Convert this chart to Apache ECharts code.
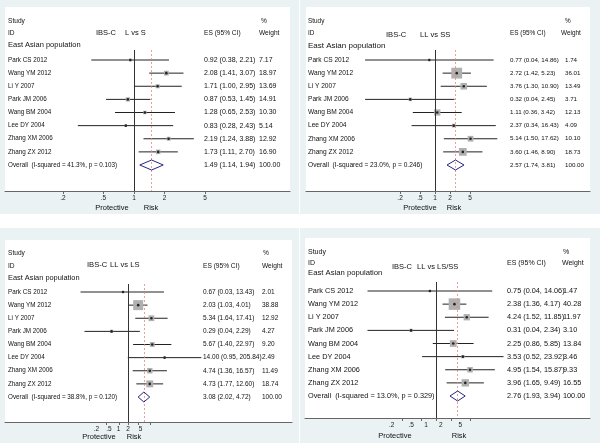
<!DOCTYPE html>
<html><head><meta charset="utf-8">
<script src="https://cdn.jsdelivr.net/npm/echarts@6/dist/echarts.min.js"></script>
<style>html,body{margin:0;padding:0;background:#fff}#c{width:600px;height:443px}</style>
</head><body><div id="c"></div>
<script>
// ---------------- data ----------------
const studies = ["Park CS 2012","Wang YM 2012","Li Y 2007","Park JM 2006","Wang BM 2004","Lee DY 2004","Zhang XM 2006","Zhang ZX 2012"];
const comparisons = ["L vs S","LL vs SS","LL vs LS","LL vs LS/SS"];
const tickValues = [0.2, 0.5, 1, 2, 5];
const tickLabels = [".2", ".5", "1", "2", "5"];

// L vs S
const es1 = [0.92, 2.08, 1.71, 0.87, 1.28, 0.83, 2.19, 1.73];
const lo1 = [0.38, 1.41, 1.00, 0.53, 0.65, 0.28, 1.24, 1.11];
const hi1 = [2.21, 3.07, 2.95, 1.45, 2.53, 2.43, 3.88, 2.70];
const w1  = [7.17, 18.97, 13.69, 14.91, 10.30, 5.14, 12.92, 16.90];
// LL vs SS
const es2 = [0.77, 2.72, 3.76, 0.32, 1.11, 2.37, 5.14, 3.60];
const lo2 = [0.04, 1.42, 1.30, 0.04, 0.36, 0.34, 1.50, 1.46];
const hi2 = [14.86, 5.23, 10.90, 2.45, 3.42, 16.43, 17.62, 8.90];
const w2  = [1.74, 36.01, 13.49, 3.71, 12.13, 4.09, 10.10, 18.73];
// LL vs LS
const es3 = [0.67, 2.03, 5.34, 0.29, 5.67, 14.00, 4.74, 4.73];
const lo3 = [0.03, 1.03, 1.64, 0.04, 1.40, 0.95, 1.36, 1.77];
const hi3 = [13.43, 4.01, 17.41, 2.29, 22.97, 205.84, 16.57, 12.60];
const w3  = [2.01, 38.88, 12.92, 4.27, 9.20, 2.49, 11.49, 18.74];
// LL vs LS/SS
const es4 = [0.75, 2.38, 4.24, 0.31, 2.25, 3.53, 4.95, 3.96];
const lo4 = [0.04, 1.36, 1.52, 0.04, 0.86, 0.52, 1.54, 1.65];
const hi4 = [14.06, 4.17, 11.85, 2.34, 5.85, 23.92, 15.87, 9.49];
const w4  = [1.47, 40.28, 11.97, 3.10, 13.84, 3.46, 9.33, 16.55];

const overallES = [1.49, 2.57, 3.08, 2.76];
const overallLo = [1.14, 1.74, 2.02, 1.93];
const overallHi = [1.94, 3.81, 4.72, 3.94];
const iSquared  = ["41.3%", "23.0%", "38.8%", "13.0%"];
const pHet      = ["0.103", "0.246", "0.120", "0.329"];

const ES = [es1, es2, es3, es4], LO = [lo1, lo2, lo3, lo4], HI = [hi1, hi2, hi3, hi4], W = [w1, w2, w3, w4];

// ---------------- layout ----------------
const L = [
  {bg:[0,0,299,214], whiteTop:7, left:5, right:290, top:50, axisY:191, x1:134, ppd:101.6, row0:60, rowH:13.125,
   nameX:8, esX:204, wX:259,
   hdr:{study:[8,21], id:[8,33], eap:[8,45], ibs:[96,33], cmp:[125,33], es:[204,33], pct:[261,21], weight:[259,33]},
   prot:[112,208], risk:[151,208], f:{name:6.3, es:7, hdr:6.6, eap:7.5, title:7.5, tick:6.5, pr:7.5}, box:1.1, labShift:0},
  {bg:[300,0,300,214], whiteTop:7, left:306, right:590, top:50, axisY:191, x1:435, ppd:50, row0:60, rowH:13.125,
   nameX:308, esX:510, wX:565,
   hdr:{study:[308,21], id:[308,33], eap:[308,46], ibs:[386,35], cmp:[420,35], es:[510,33], pct:[565,21], weight:[561,33]},
   prot:[420,208], risk:[454,208], f:{name:6.6, es:6.2, hdr:6.4, eap:8, title:7.6, tick:6.5, pr:7.5}, box:1.8, labShift:0},
  {bg:[0,228,299,215], whiteTop:240, left:5, right:292, top:284, axisY:422, x1:128.5, ppd:31.5, row0:292, rowH:13.125,
   nameX:8, esX:203, wX:262,
   hdr:{study:[8,253], id:[8,266], eap:[8,278], ibs:[87,265], cmp:[110,265], es:[203,266], pct:[263,253], weight:[262,266]},
   prot:[99,437], risk:[134,437], f:{name:6.3, es:6.5, hdr:6.6, eap:7.4, title:7.6, tick:6.5, pr:7.5}, box:1.6, labShift:10},
  {bg:[300,228,300,215], whiteTop:238, left:305, right:590, top:282, axisY:418, x1:436, ppd:49, row0:291, rowH:13.125,
   nameX:308, esX:507, wX:563,
   hdr:{study:[308,252], id:[308,263], eap:[308,273], ibs:[392,267], cmp:[417,267], es:[507,263], pct:[563,252], weight:[562,263]},
   prot:[395,436], risk:[459,436], f:{name:7.3, es:7.3, hdr:7, eap:7.7, title:7.5, tick:6.5, pr:7.5}, box:1.82, labShift:10}
];

const FAMILY = "'Liberation Sans', Arial, sans-serif";
const lg = Math.log10;
const fmt = v => v.toFixed(2);
const tickLog = tickValues.map(lg);
function tickFormatter(v) {
  for (let j = 0; j < tickLog.length; j++) if (Math.abs(tickLog[j] - v) < 1e-6) return tickLabels[j];
  return '';
}

const chart = echarts.init(document.getElementById('c'), null, {renderer:'canvas'});

const grids = [], xAxes = [], yAxes = [], series = [];
L.forEach((l, k) => {
  grids.push({left:l.left, top:l.top, width:l.right - l.left, height:l.axisY - l.top, show:false, containLabel:false, outerBoundsMode:'none'});
  xAxes.push({
    gridIndex:k, type:'value', min:(l.left - l.x1) / l.ppd, max:(l.right - l.x1) / l.ppd,
    axisLine:{show:true, onZero:false, lineStyle:{color:'#666', width:1}},
    axisTick:{show:true, customValues:tickLog, length:3, lineStyle:{color:'#666', width:1}},
    axisLabel:{show:true, customValues:tickLog, formatter:tickFormatter, fontSize:l.f.tick, fontFamily:FAMILY, color:'#222', margin:4,
               padding:[0, 2 * l.labShift, 0, 0]},
    splitLine:{show:false}
  });
  yAxes.push({gridIndex:k, type:'value', inverse:true, min:(l.top - l.row0) / l.rowH, max:(l.axisY - l.row0) / l.rowH, show:false});

  const es = ES[k], lo = LO[k], hi = HI[k], w = W[k];
  // CI lines
  series.push({
    type:'custom', xAxisIndex:k, yAxisIndex:k, silent:true, clip:false, z:2,
    encode:{x:[0,1], y:2},
    data: studies.map((s, i) => [lg(lo[i]), lg(hi[i]), i]),
    renderItem:(p, api) => {
      const a = api.coord([api.value(0), api.value(2)]);
      const b = api.coord([api.value(1), api.value(2)]);
      return {type:'line', shape:{x1:a[0], y1:a[1], x2:b[0], y2:b[1]}, style:{stroke:'#222', lineWidth:1}};
    }
  });
  // weight boxes
  series.push({
    type:'scatter', xAxisIndex:k, yAxisIndex:k, silent:true, z:3,
    symbol:'rect', symbolSize: v => l.box * Math.sqrt(v[2]),
    itemStyle:{color:'#b0b0b0', opacity:1},
    data: studies.map((s, i) => [lg(es[i]), i, w[i]])
  });
  // point estimates + reference lines
  series.push({
    type:'scatter', xAxisIndex:k, yAxisIndex:k, silent:true, z:4,
    symbol:'circle', symbolSize:2.6, itemStyle:{color:'#000'},
    data: studies.map((s, i) => [lg(es[i]), i]),
    markLine:{
      silent:true, symbol:['none','none'], label:{show:false}, animation:false,
      data:[
        {xAxis:0, lineStyle:{color:'#333', type:'solid', width:1}},
        {xAxis:lg(overallES[k]), lineStyle:{color:'#e08888', type:[2,2], width:0.8}}
      ]
    }
  });
  // overall diamond
  series.push({
    type:'custom', xAxisIndex:k, yAxisIndex:k, silent:true, clip:false, z:5,
    encode:{x:[0,1,2], y:3},
    data:[[lg(overallLo[k]), lg(overallES[k]), lg(overallHi[k]), studies.length]],
    renderItem:(p, api) => {
      const y = api.value(3);
      const a = api.coord([api.value(0), y]);
      const c = api.coord([api.value(1), y]);
      const b = api.coord([api.value(2), y]);
      const h = 5;
      return {type:'polygon', shape:{points:[[a[0],a[1]],[c[0],c[1]-h],[b[0],b[1]],[c[0],c[1]+h]]},
              style:{stroke:'#26267f', fill:'none', lineWidth:1}};
    }
  });
});

chart.setOption({
  animation:false,
  backgroundColor:'#ffffff',
  grid:grids, xAxis:xAxes, yAxis:yAxes, series:series
});

// ---------------- texts & panels ----------------
function txt(x, y, s, size, align) {
  return {type:'text', x:x, y:y, z:100, silent:true,
    style:{text:s, fontSize:size, fontFamily:FAMILY, fill:'#111', align:align || 'left', verticalAlign:'middle'}};
}
const g = [];
L.forEach((l, k) => {
  g.push({type:'rect', z:-20, silent:true, shape:{x:l.bg[0], y:l.bg[1], width:l.bg[2], height:l.bg[3]}, style:{fill:'#eaf2f3'}});
  g.push({type:'rect', z:-10, silent:true, shape:{x:l.left, y:l.whiteTop, width:l.right - l.left, height:l.axisY - l.whiteTop}, style:{fill:'#ffffff'}});
  const h = l.hdr, f = l.f;
  g.push(txt(h.study[0], h.study[1], 'Study', f.hdr));
  g.push(txt(h.id[0], h.id[1], 'ID', f.hdr));
  g.push(txt(h.eap[0], h.eap[1], 'East Asian population', f.eap));
  g.push(txt(h.ibs[0], h.ibs[1], 'IBS-C', f.title));
  g.push(txt(h.cmp[0], h.cmp[1], comparisons[k], f.title));
  g.push(txt(h.es[0], h.es[1], 'ES (95% CI)', f.hdr));
  g.push(txt(h.pct[0], h.pct[1], '%', f.hdr));
  g.push(txt(h.weight[0], h.weight[1], 'Weight', f.hdr));
  g.push(txt(l.prot[0], l.prot[1], 'Protective', f.pr, 'center'));
  g.push(txt(l.risk[0], l.risk[1], 'Risk', f.pr, 'center'));
  const es = ES[k], lo = LO[k], hi = HI[k], w = W[k];
  studies.forEach((s, i) => {
    const y = chart.convertToPixel({yAxisIndex:k}, i);
    g.push(txt(l.nameX, y, s, f.name));
    g.push(txt(l.esX, y, fmt(es[i]) + ' (' + fmt(lo[i]) + ', ' + fmt(hi[i]) + ')', f.es));
    g.push(txt(l.wX, y, fmt(w[i]), f.es));
  });
  const yo = chart.convertToPixel({yAxisIndex:k}, studies.length);
  g.push(txt(l.nameX, yo, 'Overall  (I-squared = ' + iSquared[k] + ', p = ' + pHet[k] + ')', f.name));
  g.push(txt(l.esX, yo, fmt(overallES[k]) + ' (' + fmt(overallLo[k]) + ', ' + fmt(overallHi[k]) + ')', f.es));
  g.push(txt(l.wX, yo, '100.00', f.es));
});
chart.setOption({graphic:{elements:g}});
</script>
</body></html>
